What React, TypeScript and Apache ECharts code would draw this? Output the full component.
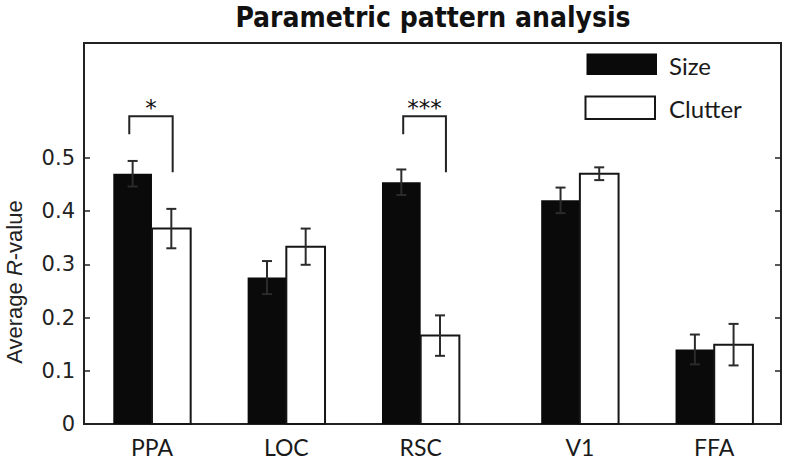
import React, { useEffect, useRef } from "react";
import * as echarts from "echarts";

const categories = ["PPA", "LOC", "RSC", "V1", "FFA"];
const positions = [1, 2, 3, 4.185, 5.185];
const sizeValues = [0.47, 0.275, 0.454, 0.42, 0.14];
const sizeErrors = [0.024, 0.031, 0.024, 0.024, 0.028];
const clutterValues = [0.367, 0.333, 0.166, 0.47, 0.149];
const clutterErrors = [0.037, 0.034, 0.038, 0.012, 0.039];
const yTicks = [0, 0.1, 0.2, 0.3, 0.4, 0.5];

const bracketX1 = [0.831, 2.87];
const bracketX2 = [1.154, 3.188];
const bracketTop = [0.578, 0.578];
const bracketLeftEnd = [0.544, 0.544];
const bracketRightEnd = [0.473, 0.473];
const bracketLabels = ["*", "***"];

const BAR_W = 0.288;
const INK = "#161616";

function nearestCategory(v: number): string {
  let best = 0;
  for (let i = 1; i < positions.length; i++) {
    if (Math.abs(positions[i] - v) < Math.abs(positions[best] - v)) best = i;
  }
  return categories[best];
}

function barRenderer(side: number, filled: boolean) {
  return (params: any, api: any) => {
    const x = api.value(0);
    const y = api.value(1);
    const e = api.value(2);
    const cx = x + (side * BAR_W) / 2;
    const a = api.coord([cx - BAR_W / 2, 0]);
    const b = api.coord([cx + BAR_W / 2, y]);
    const t = api.coord([cx, y + e]);
    const d = api.coord([cx, y - e]);
    const cap = 5;
    const lineStyle = { stroke: "#2b2b2b", lineWidth: 2 };
    return {
      type: "group",
      children: [
        {
          type: "rect",
          shape: { x: a[0], y: b[1], width: b[0] - a[0], height: a[1] - b[1] },
          style: filled
            ? { fill: "#0a0a0a" }
            : { fill: "#ffffff", stroke: INK, lineWidth: 2 },
        },
        { type: "line", shape: { x1: t[0], y1: t[1], x2: d[0], y2: d[1] }, style: lineStyle },
        { type: "line", shape: { x1: t[0] - cap, y1: t[1], x2: t[0] + cap, y2: t[1] }, style: lineStyle },
        { type: "line", shape: { x1: d[0] - cap, y1: d[1], x2: d[0] + cap, y2: d[1] }, style: lineStyle },
      ],
    };
  };
}

export default function App() {
  const ref = useRef<HTMLDivElement>(null);
  useEffect(() => {
    if (!ref.current) return;
    const chart = echarts.init(ref.current, null, { renderer: "svg" });
    const sizeData = positions.map((p, i) => [p, sizeValues[i], sizeErrors[i]]);
    const clutterData = positions.map((p, i) => [p, clutterValues[i], clutterErrors[i]]);
    const bracketData = bracketX1.map((x1, i) => [
      x1,
      bracketX2[i],
      bracketTop[i],
      bracketLeftEnd[i],
      bracketRightEnd[i],
      i,
    ]);
    const yAxisBase = {
      type: "value",
      min: 0,
      max: 0.7155,
      interval: 0.1,
      axisLine: { show: false },
      splitLine: { show: false },
      axisTick: {
        show: true,
        inside: true,
        length: 6,
        lineStyle: { color: "#222", width: 1.5 },
        customValues: yTicks,
      },
    };
    chart.setOption({
      animation: false,
      backgroundColor: "#ffffff",
      grid: {
        left: 84,
        right: 4,
        top: 43,
        bottom: 37,
        show: true,
        borderColor: "#222",
        borderWidth: 2,
        backgroundColor: "transparent",
      },
      xAxis: {
        type: "value",
        min: 0.494,
        max: 5.682,
        axisLine: { show: false },
        axisTick: { show: false },
        splitLine: { show: false },
        axisLabel: {
          customValues: positions,
          formatter: (v: number) => nearestCategory(v),
          fontFamily: "Lato",
          fontSize: 23,
          color: "#1a1a1a",
          margin: 11,
        },
      },
      yAxis: [
        {
          ...yAxisBase,
          position: "left",
          axisLabel: {
            customValues: yTicks,
            margin: 9,
            fontFamily: "DejaVu Sans",
            fontSize: 21,
            color: "#222",
            formatter: (v: number) => (v === 0 ? "0" : v.toFixed(1)),
          },
        },
        {
          ...yAxisBase,
          position: "right",
          axisLabel: { show: false },
        },
      ],
      graphic: [
        {
          type: "text",
          x: 433,
          y: 17,
          style: {
            text: "Parametric pattern analysis",
            fontFamily: "DejaVu Sans Condensed",
            fontWeight: "bold",
            fontSize: 28,
            fill: "#111",
            align: "center",
            verticalAlign: "middle",
          },
        },
        {
          type: "text",
          x: 14,
          y: 282,
          rotation: Math.PI / 2,
          style: {
            text: "{a|Average }{b|R}{a|-value}",
            align: "center",
            verticalAlign: "middle",
            rich: {
              a: { fontFamily: "Liberation Sans", fontSize: 22, fill: "#222" },
              b: { fontFamily: "Liberation Sans", fontSize: 22, fontStyle: "italic", fill: "#222" },
            },
          },
        },
        {
          type: "rect",
          shape: { x: 586.5, y: 53.5, width: 70.5, height: 21.5 },
          style: { fill: "#0a0a0a" },
        },
        {
          type: "rect",
          shape: { x: 585.5, y: 96.5, width: 69.5, height: 22.5 },
          style: { fill: "#ffffff", stroke: INK, lineWidth: 2 },
        },
        {
          type: "text",
          x: 669,
          y: 65,
          style: {
            text: "Size",
            fontFamily: "Lato",
            fontSize: 24,
            fill: "#1a1a1a",
            verticalAlign: "middle",
          },
        },
        {
          type: "text",
          x: 669,
          y: 108,
          style: {
            text: "Clutter",
            fontFamily: "Lato",
            fontSize: 24,
            fill: "#1a1a1a",
            verticalAlign: "middle",
          },
        },
      ],
      series: [
        {
          name: "Size",
          type: "custom",
          renderItem: barRenderer(-1, true),
          encode: { x: 0, y: 1 },
          data: sizeData,
          z: 2,
        },
        {
          name: "Clutter",
          type: "custom",
          renderItem: barRenderer(1, false),
          encode: { x: 0, y: 1 },
          data: clutterData,
          z: 3,
        },
        {
          name: "Significance",
          type: "custom",
          encode: { x: [0, 1], y: [2, 3, 4] },
          data: bracketData,
          z: 4,
          renderItem: (params: any, api: any) => {
            const x1 = api.value(0);
            const x2 = api.value(1);
            const top = api.value(2);
            const le = api.value(3);
            const re = api.value(4);
            const idx = api.value(5);
            const pL = api.coord([x1, le]);
            const pLT = api.coord([x1, top]);
            const pRT = api.coord([x2, top]);
            const pR = api.coord([x2, re]);
            return {
              type: "group",
              children: [
                {
                  type: "polyline",
                  shape: { points: [pL, pLT, pRT, pR] },
                  style: { stroke: "#222", lineWidth: 2, fill: "none" },
                },
                {
                  type: "text",
                  x: (pLT[0] + pRT[0]) / 2,
                  y: pLT[1] - 20,
                  style: {
                    text: bracketLabels[idx],
                    fontFamily: "DejaVu Sans",
                    fontSize: 23,
                    fill: "#111",
                    align: "center",
                    verticalAlign: "top",
                  },
                },
              ],
            };
          },
        },
      ],
    });
    return () => chart.dispose();
  }, []);
  return (
    <div
      ref={ref}
      style={{ position: "absolute", left: 0, top: 0, width: 785, height: 461 }}
    />
  );
}
